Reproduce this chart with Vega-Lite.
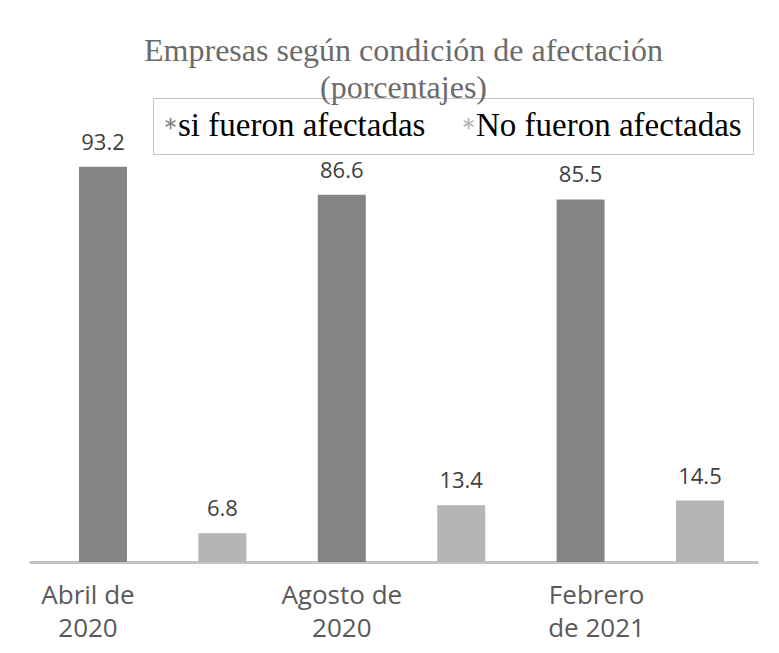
{
  "$schema": "https://vega.github.io/schema/vega-lite/v6.json",
  "autosize": "none",
  "padding": {"left": 29, "top": 138, "right": 21, "bottom": 91},
  "width": 729,
  "height": 424,
  "background": "white",
  "title": {
    "text": ["Empresas según condición de afectación", "(porcentajes)"],
    "font": "Liberation Serif",
    "fontSize": 32,
    "fontWeight": "normal",
    "color": "#6b6b6b",
    "lineHeight": 37,
    "anchor": "middle",
    "frame": "group",
    "dx": 10,
    "offset": -7
  },
  "data": {
    "values": [
      {"barra": "Abril de 2020 (si)", "serie": "si fueron afectadas", "valor": 93.2},
      {"barra": "Abril de 2020 (no)", "serie": "No fueron afectadas", "valor": 6.8},
      {"barra": "Agosto de 2020 (si)", "serie": "si fueron afectadas", "valor": 86.6},
      {"barra": "Agosto de 2020 (no)", "serie": "No fueron afectadas", "valor": 13.4},
      {"barra": "Febrero de 2021 (si)", "serie": "si fueron afectadas", "valor": 85.5},
      {"barra": "Febrero de 2021 (no)", "serie": "No fueron afectadas", "valor": 14.5}
    ]
  },
  "encoding": {
    "x": {
      "field": "barra",
      "type": "nominal",
      "sort": null,
      "scale": {"paddingInner": 0.598, "paddingOuter": 0.352, "align": 0.595},
      "axis": {
        "title": null,
        "ticks": false,
        "labelAngle": 0,
        "domainColor": "#c4c4c4",
        "domainWidth": 3,
        "labelFont": "Open Sans",
        "labelFontSize": 26,
        "labelColor": "#595959",
        "labelLineHeight": 33,
        "labelPadding": 20,
        "labelBound": false,
        "labelOverlap": false,
        "labelOffset": {
          "condition": [
            {"test": "datum.value == 'Abril de 2020 (si)'", "value": -15},
            {"test": "datum.value == 'Febrero de 2021 (si)'", "value": 16}
          ],
          "value": 0
        },
        "labelExpr": "datum.value == 'Abril de 2020 (si)' ? ['Abril de', '2020'] : datum.value == 'Agosto de 2020 (si)' ? ['Agosto de', '2020'] : datum.value == 'Febrero de 2021 (si)' ? ['Febrero', 'de 2021'] : ''"
      }
    },
    "y": {
      "field": "valor",
      "type": "quantitative",
      "scale": {"domain": [0, 100]},
      "axis": null
    }
  },
  "layer": [
    {
      "mark": {"type": "bar"},
      "encoding": {
        "color": {
          "field": "serie",
          "type": "nominal",
          "scale": {"domain": ["si fueron afectadas", "No fueron afectadas"], "range": ["#858585", "#b5b5b5"]},
          "legend": {
            "title": null,
            "orient": "none",
            "legendX": 124,
            "legendY": -40,
            "direction": "horizontal",
            "strokeColor": "#c4c4c4",
            "fillColor": "white",
            "padding": 11,
            "labelFont": "Liberation Serif",
            "labelFontSize": 33,
            "labelColor": "#000000",
            "labelLimit": 400,
            "labelOffset": -19,
            "columnPadding": 36,
            "symbolType": "M-1.89,0.6L-1.59,0.6L-1.59,-1.4L-1.89,-1.4Z M-0.949,0.230L-0.799,-0.030L-2.531,-1.030L-2.681,-0.770Z M-0.799,-0.770L-0.949,-1.030L-2.681,-0.030L-2.531,0.230Z",
            "symbolSize": 130,
            "symbolStrokeWidth": 0,
            "symbolOpacity": 1
          }
        }
      }
    },
    {
      "mark": {"type": "text", "dy": -24, "font": "Open Sans", "fontSize": 22, "color": "#404040"},
      "encoding": {
        "text": {"field": "valor", "type": "quantitative", "format": ".1f"}
      }
    }
  ],
  "config": {
    "view": {"stroke": null}
  }
}
